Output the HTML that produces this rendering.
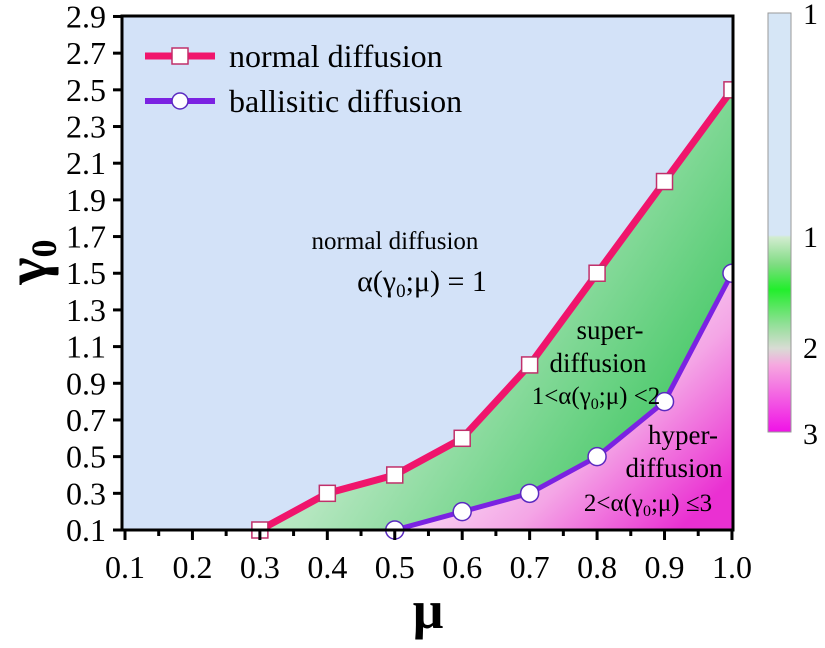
<!DOCTYPE html>
<html><head><meta charset="utf-8"><style>
body{margin:0;background:#fff;}
svg, svg text{font-family:"Liberation Serif","DejaVu Serif","Times New Roman",serif;}
</style></head><body>
<svg id="chart" width="825" height="643" viewBox="0 0 825 643" xmlns="http://www.w3.org/2000/svg" font-family="Liberation Serif, DejaVu Serif, serif">
<defs>
<linearGradient id="gGreen" x1="0" y1="0" x2="1" y2="0.6">
<stop offset="0" stop-color="#f0faf2"/><stop offset="0.5" stop-color="#b4e6bf"/><stop offset="1" stop-color="#45c866"/></linearGradient>
<linearGradient id="gPink" x1="0" y1="0" x2="1" y2="0.8">
<stop offset="0.35" stop-color="#fcf3fb"/><stop offset="0.7" stop-color="#f4a6e6"/><stop offset="1" stop-color="#ea30d2"/></linearGradient>
<linearGradient id="gBar" x1="0" y1="0" x2="0" y2="1">
<stop offset="0" stop-color="#d6e6f6"/><stop offset="0.53" stop-color="#d6e6f6"/>
<stop offset="0.535" stop-color="#d2ecd0"/><stop offset="0.6" stop-color="#7fdc82"/><stop offset="0.66" stop-color="#22ee2c"/><stop offset="0.74" stop-color="#8ee094"/><stop offset="0.8" stop-color="#d8dcd4"/><stop offset="0.84" stop-color="#f6a8e0"/><stop offset="1" stop-color="#f012e6"/></linearGradient>
</defs>
<g id="plot"></g>
</svg>
<script>
const muVals=[0.3,0.4,0.5,0.6,0.7,0.8,0.9,1.0];
const normalVals=[0.1,0.3,0.4,0.6,1.0,1.5,2.0,2.5];
const ballMu=[0.5,0.6,0.7,0.8,0.9,1.0];
const ballVals=[0.1,0.2,0.3,0.5,0.8,1.5];
const xTicks=["0.1","0.2","0.3","0.4","0.5","0.6","0.7","0.8","0.9","1.0"];
const yTicks=["0.1","0.3","0.5","0.7","0.9","1.1","1.3","1.5","1.7","1.9","2.1","2.3","2.5","2.7","2.9"];
const barLabels=["1","1","2","3"];

const NS="http://www.w3.org/2000/svg";
const g=document.getElementById('plot');
const L=122,R=733,T=16,B=530;
const xs=v=>125+(v-0.1)*674.4;
const ys=v=>530-(v-0.1)*183.4;
function mk(tag,a,parent){const e=document.createElementNS(NS,tag);for(const k in a)e.setAttribute(k,a[k]);if(tag==='text')e.setAttribute('font-family','Liberation Serif, DejaVu Serif, serif');(parent||g).appendChild(e);return e;}

let r=mk('rect',{x:L,y:T,width:R-L,height:B-T,fill:'#d3e2f8'});


let p='M'+xs(muVals[0])+','+B;
muVals.forEach((m,i)=>p+=' L'+xs(m)+','+ys(normalVals[i]));
p+=' L'+R+','+ys(normalVals[normalVals.length-1])+' L'+R+','+B+' Z';
let gr=mk('path',{d:p,fill:'url(#gGreen)'});


p='M'+xs(ballMu[0])+','+B;
ballMu.forEach((m,i)=>p+=' L'+xs(m)+','+ys(ballVals[i]));
p+=' L'+R+','+ys(ballVals[ballVals.length-1])+' L'+R+','+B+' Z';
let pr=mk('path',{d:p,fill:'url(#gPink)'});



let nl=mk('polyline',{points:muVals.map((m,i)=>xs(m)+','+ys(normalVals[i])).join(' '),fill:'none',stroke:'#f0156c','stroke-width':7});


let bl=mk('polyline',{points:ballMu.map((m,i)=>xs(m)+','+ys(ballVals[i])).join(' '),fill:'none',stroke:'#7b22e2','stroke-width':5});


muVals.forEach((m,i)=>{let s=mk('rect',{x:xs(m)-8,y:ys(normalVals[i])-8,width:16,height:16,fill:'#fff',stroke:'#c0306a','stroke-width':1.5});

});
ballMu.forEach((m,i)=>{let c=mk('circle',{cx:xs(m),cy:ys(ballVals[i]),r:9,fill:'#fff',stroke:'#5a2ac0','stroke-width':1.5});

});

mk('rect',{x:R+1.5,y:T,width:20,height:B-T+5,fill:'#fff'});
let fr=mk('rect',{x:L,y:T,width:R-L,height:B-T,fill:'none',stroke:'#000','stroke-width':3});



xTicks.forEach((t,i)=>{const v=0.1+i*0.1,x=xs(v);
mk('line',{x1:x,y1:B,x2:x,y2:B+10,stroke:'#000','stroke-width':3});
if(i<9)mk('line',{x1:x+33.7,y1:B,x2:x+33.7,y2:B+6,stroke:'#000','stroke-width':3});
let tx=mk('text',{x:x,y:B+48,'font-size':32,'text-anchor':'middle'});tx.textContent=t;

});
yTicks.forEach((t,i)=>{const v=0.1+i*0.2,y=ys(v);
mk('line',{x1:L-9,y1:y,x2:L,y2:y,stroke:'#000','stroke-width':3});
let tx=mk('text',{x:L-16,y:y+11,'font-size':32,'text-anchor':'end'});tx.textContent=t;

});

let xt=mk('text',{x:428,y:628,'font-size':54,'font-weight':'bold','text-anchor':'middle'});xt.textContent='μ';


let yt=mk('text',{x:0,y:0,'font-size':58,'font-weight':'bold','text-anchor':'middle',transform:'translate(46,262) rotate(-90)'});
yt.innerHTML='γ<tspan font-size="36" dy="10">0</tspan>';



mk('line',{x1:145,y1:56,x2:215,y2:56,stroke:'#f0156c','stroke-width':7});
mk('rect',{x:172,y:48,width:16,height:16,fill:'#fff',stroke:'#c0306a','stroke-width':1.5});
mk('line',{x1:145,y1:101,x2:215,y2:101,stroke:'#7b22e2','stroke-width':6});
mk('circle',{cx:180,cy:101,r:8,fill:'#fff',stroke:'#5a2ac0','stroke-width':1.5});
let l1=mk('text',{x:229,y:67,'font-size':32});l1.textContent='normal diffusion';


let l2=mk('text',{x:229,y:112,'font-size':32});l2.textContent='ballisitic diffusion';



function ann(x,y,s,html,name){let t=mk('text',{x:x,y:y,'font-size':s,'text-anchor':'middle'});t.innerHTML=html;

}
ann(395,249,25,'normal diffusion','normal-label');
ann(422,291,30,'α(γ<tspan font-size="19" dy="6">0</tspan><tspan dy="-6">;μ) = 1</tspan>','normal-alpha');
ann(610,339,27,'super-','super-label');
ann(598,372,27,'diffusion','super-label-2');
ann(596,404,25,'1&lt;α(γ<tspan font-size="16" dy="5">0</tspan><tspan dy="-5">;μ) &lt;2</tspan>','super-alpha');
ann(683,444,27,'hyper-','hyper-label');
ann(674,477,27,'diffusion','hyper-label-2');
ann(648,511,25,'2&lt;α(γ<tspan font-size="16" dy="5">0</tspan><tspan dy="-5">;μ) ≤3</tspan>','hyper-alpha');

let cb=mk('rect',{x:768,y:13,width:23,height:419,fill:'url(#gBar)',stroke:'#999','stroke-width':1});


const barY=[24,247,358,444];
barLabels.forEach((t,i)=>{let tx=mk('text',{x:803,y:barY[i],'font-size':30});tx.textContent=t;

});
</script>
</body></html>
